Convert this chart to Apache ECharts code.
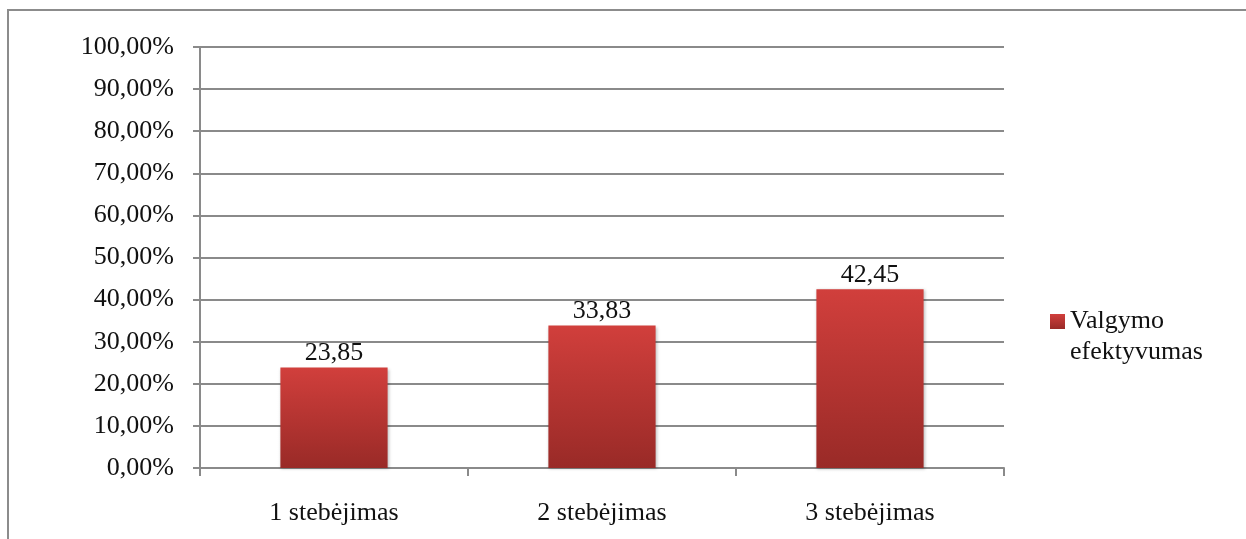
<!DOCTYPE html>
<html>
<head>
<meta charset="utf-8">
<style>
  html, body { margin: 0; padding: 0; background: #ffffff; }
  #chart { width: 1246px; height: 539px; }
</style>
<script src="https://cdn.jsdelivr.net/npm/echarts@6/dist/echarts.min.js"></script>
</head>
<body>
<div id="chart"></div>
<script>
// Observation rounds and measured eating efficiency (percent)
const categories = ['1 stebėjimas', '2 stebėjimas', '3 stebėjimas'];
const seriesName = 'Valgymo efektyvumas';
const values = [23.85, 33.83, 42.45];
const valueLabels = ['23,85', '33,83', '42,45'];

const FONT = '"Liberation Serif", "Times New Roman", serif';
const GRID_COLOR = '#8a8a8a';

const barGradient = new echarts.graphic.LinearGradient(0, 0, 0, 1, [
  { offset: 0, color: '#d13f3c' },
  { offset: 1, color: '#992a27' }
]);

const chart = echarts.init(document.getElementById('chart'), null, { renderer: 'canvas' });

chart.setOption({
  animation: false,
  backgroundColor: '#ffffff',
  textStyle: { fontFamily: FONT },
  graphic: [{
    type: 'rect',
    shape: { x: 8, y: 10, width: 1400, height: 700 },
    style: { fill: 'none', stroke: '#8c8c8c', lineWidth: 2 },
    silent: true,
    z: 0
  }],
  grid: { left: 200, right: 242, top: 47, bottom: 71, containLabel: false },
  legend: {
    show: true,
    orient: 'vertical',
    left: 1045,
    top: 270,
    itemWidth: 15,
    itemHeight: 15,
    itemGap: 5,
    icon: 'rect',
    // leading blank line keeps the swatch level with the first word
    formatter: function (name) { return '\n' + name.replace(' ', '\n'); },
    textStyle: {
      fontFamily: FONT,
      fontSize: 26,
      color: '#111111',
      lineHeight: 31
    },
    data: [seriesName]
  },
  xAxis: {
    type: 'category',
    data: categories,
    axisLine: { show: true, lineStyle: { color: GRID_COLOR, width: 2 } },
    axisTick: { show: true, alignWithLabel: false, length: 8, lineStyle: { color: GRID_COLOR, width: 2 } },
    axisLabel: { fontFamily: FONT, fontSize: 26, color: '#111111', margin: 32 },
    splitLine: { show: false }
  },
  yAxis: {
    type: 'value',
    min: 0,
    max: 100,
    interval: 10,
    axisLine: { show: true, lineStyle: { color: GRID_COLOR, width: 2 } },
    axisTick: { show: true, length: 7, lineStyle: { color: GRID_COLOR, width: 2 } },
    axisLabel: {
      fontFamily: FONT,
      fontSize: 26,
      color: '#111111',
      margin: 26,
      formatter: function (v) { return v.toFixed(2).replace('.', ',') + '%'; }
    },
    splitLine: { show: true, lineStyle: { color: GRID_COLOR, width: 2 } }
  },
  series: [{
    name: seriesName,
    type: 'bar',
    data: values,
    barWidth: '40%',
    itemStyle: {
      color: barGradient,
      shadowColor: 'rgba(0,0,0,0.25)',
      shadowBlur: 3,
      shadowOffsetX: 1,
      shadowOffsetY: 1
    },
    label: {
      show: true,
      position: 'top',
      distance: 1,
      fontFamily: FONT,
      fontSize: 26,
      color: '#111111',
      formatter: function (p) { return valueLabels[p.dataIndex]; }
    },
    z: 3
  }]
});
</script>
</body>
</html>
